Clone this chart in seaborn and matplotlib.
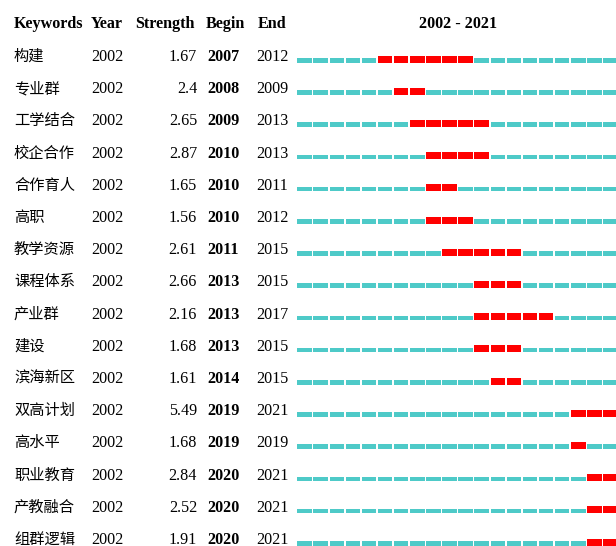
import numpy as np
import pandas as pd
import seaborn as sns
import matplotlib
matplotlib.use('Agg')
import matplotlib.pyplot as plt
import matplotlib.transforms as mtransforms

# 数据
keywords = ['构建', '专业群', '工学结合', '校企合作', '合作育人', '高职', '教学资源', '课程体系',
            '产业群', '建设', '滨海新区', '双高计划', '高水平', '职业教育', '产教融合', '组群逻辑']
year = [2002] * 16
strength = ['1.67', '2.4', '2.65', '2.87', '1.65', '1.56', '2.61', '2.66',
            '2.16', '1.68', '1.61', '5.49', '1.68', '2.84', '2.52', '1.91']
begin = [2007, 2008, 2009, 2010, 2010, 2010, 2011, 2013, 2013, 2013, 2014, 2019, 2019, 2020, 2020, 2020]
end = [2012, 2009, 2013, 2013, 2011, 2012, 2015, 2015, 2017, 2015, 2015, 2021, 2019, 2021, 2021, 2021]
start_year, end_year = 2002, 2021

# 展开成每年一格
rows = []
for i, kw in enumerate(keywords):
    for y in range(start_year, end_year + 1):
        rows.append({'row': i, 'year': y, 'burst': begin[i] <= y <= end[i]})
cells = pd.DataFrame(rows)

sns.set_theme(style='white')
plt.rcParams['font.family'] = ['Liberation Serif', 'Noto Sans CJK SC']

fig = plt.figure(figsize=(6.16, 5.46), dpi=100)
ax = fig.add_axes([297 / 616, 0, 322 / 616, 1])
ax.set_xlim(start_year, end_year + 1)
ax.set_ylim(15.01, -1.947)
ax.axis('off')

cyan = '#4ECAC8'
red = '#FF0000'
normal = cells[~cells['burst']]
hot = cells[cells['burst']]
ax.bar(normal['year'] + 0.02, -0.145, bottom=normal['row'], width=0.9, align='edge',
       color=cyan, linewidth=0, clip_on=False)
ax.bar(hot['year'] + 0.02, -0.22, bottom=hot['row'], width=0.9, align='edge',
       color=red, linewidth=0, clip_on=False)

tr = mtransforms.blended_transform_factory(fig.transFigure, ax.transData)
fs = 11.6
hy = -1.07
hdr = dict(transform=tr, fontsize=fs, fontweight='bold', va='baseline', color='black',
           family=['Liberation Serif'])
ax.text(14 / 616, hy, 'Keywords', ha='left', **hdr)
ax.text(91 / 616, hy, 'Year', ha='left', **hdr)
ax.text(135 / 616, hy, 'Strength', ha='left', **hdr)
ax.text(206 / 616, hy, 'Begin', ha='left', **hdr)
ax.text(258 / 616, hy, 'End', ha='left', **hdr)
ax.text((start_year + end_year + 1) / 2, hy, f'{start_year} - {end_year}', ha='center', va='baseline',
        fontsize=fs, fontweight='bold', color='black', family=['Liberation Serif'])

for i in range(len(keywords)):
    ty = i - 0.05
    ax.text(14 / 616, ty, keywords[i], transform=tr, fontsize=11, va='baseline', ha='left',
            family=['Noto Sans CJK SC'], color='black')
    ax.text(91 / 616, ty, str(year[i]), transform=tr, fontsize=fs, va='baseline', ha='left', color='black')
    ax.text(197 / 616, ty, strength[i], transform=tr, fontsize=fs, va='baseline', ha='right', color='black')
    ax.text(207 / 616, ty, str(begin[i]), transform=tr, fontsize=fs, va='baseline', ha='left',
            fontweight='bold', color='black')
    ax.text(256 / 616, ty, str(end[i]), transform=tr, fontsize=fs, va='baseline', ha='left', color='black')

fig.savefig('out.png', dpi=100, facecolor='white')
